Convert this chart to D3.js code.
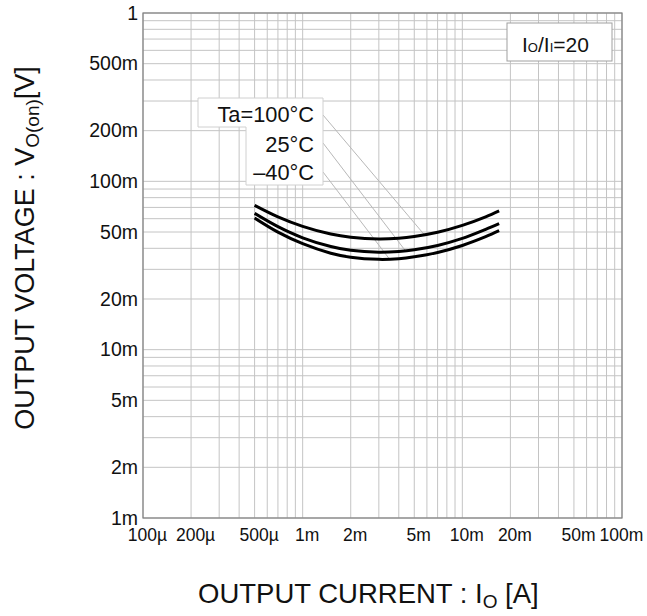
<!DOCTYPE html>
<html><head><meta charset="utf-8">
<script src="https://cdn.jsdelivr.net/npm/d3@7"></script>
<style>
body{margin:0;background:#fff}
text{font-family:"Liberation Sans",Arial,sans-serif;fill:#111}
</style>
</head><body><svg id="c" width="647" height="616"></svg>
<script>
// ---- data ----
const currentA = [0.5e-3, 0.7e-3, 1e-3, 1.5e-3, 2e-3, 3e-3, 4e-3, 5e-3, 7e-3, 10e-3, 14e-3, 17e-3];
const vOut100mV = [72, 61.5, 54, 48.6, 46.5, 45.4, 45.9, 47, 49.8, 54.7, 61.5, 66.7];
const vOut25mV  = [64.5, 53.8, 46.2, 41, 38.9, 37.9, 38.3, 39.2, 41.6, 45.8, 51.8, 56];
const vOutM40mV = [60.5, 49.9, 42.6, 37.4, 35.4, 34.4, 34.7, 35.6, 37.8, 41.6, 46.9, 50.9];
const seriesLabels = ["Ta=100°C", "25°C", "–40°C"];
const leaderX = [5.8e-3, 4.4e-3, 3.5e-3];      // where each label's leader line meets its curve
const leaderVmV = [48, 38.7, 34.5];
const xTickValues = [1e-4, 2e-4, 5e-4, 1e-3, 2e-3, 5e-3, 1e-2, 2e-2, 5e-2, 1e-1];
const xTickLabels = ["100µ", "200µ", "500µ", "1m", "2m", "5m", "10m", "20m", "50m", "100m"];
const yTickValues = [1, 0.5, 0.2, 0.1, 0.05, 0.02, 0.01, 0.005, 0.002, 0.001];
const yTickLabels = ["1", "500m", "200m", "100m", "50m", "20m", "10m", "5m", "2m", "1m"];

// ---- layout ----
const L = 143, R = 622, T = 13, B = 518;
const svg = d3.select("#c");
const x = d3.scaleLog().domain([1e-4, 1e-1]).range([L, R]);
const y = d3.scaleLog().domain([1e-3, 1]).range([B, T]);

// grid
const g = svg.append("g");
g.selectAll("line.vx").data(x.ticks()).join("line")
  .attr("x1", d => x(d)).attr("x2", d => x(d)).attr("y1", T).attr("y2", B)
  .attr("stroke", "#c4c4c4").attr("stroke-width", 1);
g.selectAll("line.hy").data(y.ticks()).join("line")
  .attr("y1", d => y(d)).attr("y2", d => y(d)).attr("x1", L).attr("x2", R)
  .attr("stroke", "#c4c4c4").attr("stroke-width", 1);
svg.append("rect").attr("x", L).attr("y", T).attr("width", R - L).attr("height", B - T)
  .attr("fill", "none").attr("stroke", "#808080").attr("stroke-width", 1.2);

// axes
const xa = svg.append("g").attr("transform", `translate(0,${B})`)
  .call(d3.axisBottom(x).tickValues(xTickValues).tickFormat((d, i) => xTickLabels[i]).tickSize(0).tickPadding(10.6));
xa.select(".domain").remove();
xa.selectAll("text").attr("font-size", 17.5).attr("font-family", null).style("fill", "#111")
  .attr("dx", (d, i) => i === xTickValues.length - 1 ? -1 : 4);
const ya = svg.append("g").attr("transform", `translate(${L},0)`)
  .call(d3.axisLeft(y).tickValues(yTickValues).tickFormat((d, i) => yTickLabels[i]).tickSize(0).tickPadding(5));
ya.select(".domain").remove();
ya.selectAll("text").attr("font-size", 19.5).attr("font-family", null).style("fill", "#111");

// leader lines
const legX = 323, legY = [115, 143, 172];
svg.selectAll("line.lead").data(leaderX).join("line")
  .attr("x1", legX).attr("y1", (d, i) => legY[i])
  .attr("x2", d => x(d)).attr("y2", (d, i) => y(leaderVmV[i] / 1000))
  .attr("stroke", "#b8b8b8").attr("stroke-width", 1);

// curves
const series = [vOut100mV, vOut25mV, vOutM40mV];
const line = d3.line().x((d, i) => x(currentA[i])).y(d => y(d / 1000)).curve(d3.curveCatmullRom.alpha(0.5));
svg.selectAll("path.s").data(series).join("path")
  .attr("d", d => line(d)).attr("fill", "none").attr("stroke", "#000").attr("stroke-width", 3);

// legend box
svg.append("path")
  .attr("d", "M198,98 H323 V185 H246 V127 H198 Z")
  .attr("fill", "#fff").attr("stroke", "#d0d0d0").attr("stroke-width", 1);
svg.selectAll("text.leg").data(seriesLabels).join("text")
  .attr("x", 314).attr("y", (d, i) => [122, 151.5, 180][i])
  .attr("text-anchor", "end").attr("font-size", 21.8).text(d => d);

// Io/Ii box
svg.append("rect").attr("x", 507).attr("y", 23).attr("width", 105).attr("height", 38)
  .attr("fill", "#fff").attr("stroke", "#a0a0a0").attr("stroke-width", 1);
const ratio = svg.append("text").attr("x", 522).attr("y", 52).attr("font-size", 21);
ratio.append("tspan").text("I");
ratio.append("tspan").attr("font-size", 13).text("O");
ratio.append("tspan").text("/I");
ratio.append("tspan").attr("font-size", 13).text("I");
ratio.append("tspan").text("=20");

// axis titles
const xt = svg.append("text").attr("x", 198).attr("y", 603).attr("font-size", 27.5);
xt.append("tspan").text("OUTPUT CURRENT : I");
xt.append("tspan").attr("font-size", 19).attr("dy", 5).text("O");
xt.append("tspan").attr("dy", -5).text(" [A]");

const yt = svg.append("text").attr("transform", "translate(34,248) rotate(-90)")
  .attr("text-anchor", "middle").attr("font-size", 27);
yt.append("tspan").text("OUTPUT VOLTAGE : V");
yt.append("tspan").attr("font-size", 19).attr("dy", 5).text("O(on)");
yt.append("tspan").attr("dy", -5).text("[V]");
</script>
</body></html>
